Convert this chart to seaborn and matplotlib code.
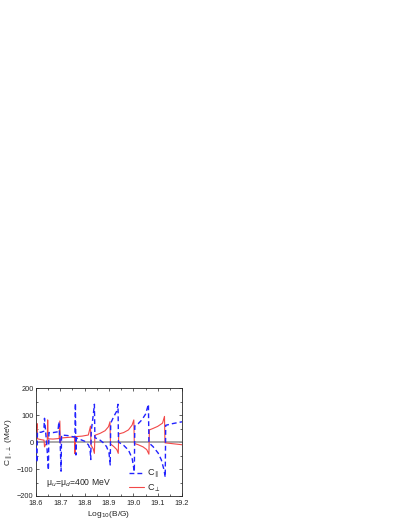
#!/usr/bin/env python3
"""
plot.py - C_par / C_perp oscillations vs log10(B/G), mu_u = mu_d = 400 MeV
"""

import pandas as pd
import matplotlib
matplotlib.use('Agg')
import matplotlib.pyplot as plt
from matplotlib.ticker import MultipleLocator
import seaborn as sns

# C_perp (red, solid)
red_x = [18.600, 18.603, 18.605, 18.606, 18.620, 18.633, 18.635, 18.640, 18.646,
         18.648, 18.650, 18.670, 18.695, 18.698, 18.700, 18.703, 18.730, 18.758,
         18.760, 18.762, 18.790, 18.815, 18.824, 18.826, 18.835, 18.840, 18.842,
         18.863, 18.884, 18.898, 18.904, 18.906, 18.920, 18.932, 18.938, 18.940,
         18.960, 18.980, 18.995, 19.002, 19.004, 19.020, 19.040, 19.055, 19.064,
         19.066, 19.080, 19.100, 19.120, 19.128, 19.130, 19.160, 19.200]
red_y = [40, 55, 68, 12, 9, 7, -18, -8, -5,
         82, 12, 11, 13, 78, -4, 15, 17, 19,
         -43, 20, 22, 26, 59, -11, -25, -42, 25,
         32, 42, 57, 75, -7, -17, -28, -42, 30,
         35, 45, 63, 82, -5, -10, -18, -28, -45,
         45, 50, 58, 70, 95, -3, -6, -10]

# C_par (blue, dashed)
blue_x = [18.600, 18.604, 18.606, 18.620, 18.632, 18.635, 18.645, 18.651, 18.653,
          18.670, 18.690, 18.694, 18.700, 18.703, 18.705, 18.730, 18.760, 18.762,
          18.764, 18.766, 18.780, 18.800, 18.815, 18.822, 18.825, 18.827, 18.834,
          18.840, 18.842, 18.850, 18.863, 18.877, 18.890, 18.900, 18.905, 18.907,
          18.920, 18.932, 18.937, 18.939, 18.960, 18.980, 18.995, 19.004, 19.006,
          19.020, 19.035, 19.050, 19.062, 19.064, 19.081, 19.102, 19.115, 19.126,
          19.131, 19.133, 19.160, 19.200]
blue_y = [-20, -75, 38, 36, 40, 88, -20, -104, 35,
          35, 38, 75, -20, -108, 26, 24, 18, 144,
          -48, 15, 10, 3, -10, -25, -65, 40, 90,
          140, 16, 13, 7, -3, -17, -40, -85, 70,
          95, 115, 140, 0, -12, -30, -60, -110, 60,
          68, 82, 103, 140, -3, -17, -41, -66, -103,
          -130, 62, 68, 75]

x_ticks = [18.6, 18.7, 18.8, 18.9, 19.0, 19.1, 19.2]
y_ticks = [-200, -100, 0, 100, 200]

RED = '#f24848'
BLUE = '#2222ff'


def setup_style():
    sns.set_style("ticks")
    plt.rcParams.update({
        'font.size': 5.3,
        'axes.linewidth': 0.6,
        'xtick.direction': 'in',
        'ytick.direction': 'in',
        'xtick.top': True,
        'ytick.right': True,
        'xtick.major.size': 2.2,
        'ytick.major.size': 2.2,
        'xtick.minor.size': 1.2,
        'ytick.minor.size': 1.2,
        'xtick.major.width': 0.5,
        'ytick.major.width': 0.5,
        'xtick.minor.width': 0.5,
        'ytick.minor.width': 0.5,
        'xtick.major.pad': 2.6,
        'ytick.major.pad': 1.8,
        'figure.facecolor': 'white',
    })
    plt.rcParams['font.family'] = ['Liberation Sans', 'DejaVu Sans']


def main():
    setup_style()

    red = pd.DataFrame({'x': red_x, 'y': red_y})
    blue = pd.DataFrame({'x': blue_x, 'y': blue_y})

    fig = plt.figure(figsize=(4.09, 5.29), dpi=100)
    ax = fig.add_axes([0.088, 0.0624, 0.357, 0.204])

    ax.axhline(0, color='#9a9a9a', lw=1.2, zorder=1)

    sns.lineplot(data=blue, x='x', y='y', sort=False, estimator=None, ax=ax,
                 color=BLUE, lw=1.0, label=r'C$_{\parallel}$', zorder=3)
    sns.lineplot(data=red, x='x', y='y', sort=False, estimator=None, ax=ax,
                 color=RED, lw=0.8, label=r'C$_{\perp}$', zorder=2)
    # dashed blue curve (lines[0] is the zero line)
    ax.lines[1].set_linestyle((0, (3.5, 2.2)))

    ax.set_xlim(18.6, 19.2)
    ax.set_ylim(-200, 200)
    ax.set_xticks(x_ticks)
    ax.set_yticks(y_ticks)
    ax.xaxis.set_minor_locator(MultipleLocator(0.05))
    ax.yaxis.set_minor_locator(MultipleLocator(50))
    ax.set_xticklabels([f'{t:.1f}' for t in x_ticks])
    ax.tick_params(labelsize=5.3)

    ax.set_xlabel(r'Log$_{10}$(B/G)', fontsize=6, labelpad=1.5)
    ax.set_ylabel(r'C$_{\parallel,\perp}$ (MeV)', fontsize=6, labelpad=1)

    ax.text(0.07, 0.12, r'μ$_u$=μ$_d$=400 MeV', transform=ax.transAxes,
            fontsize=6.2, va='center', ha='left')

    ax.legend(loc='center left', bbox_to_anchor=(0.64, 0.14), frameon=False,
              fontsize=6.6, handlelength=1.6, handletextpad=0.3,
              labelspacing=0.2, borderaxespad=0.0, borderpad=0.0)

    fig.savefig('out.png', dpi=100, facecolor='white')
    plt.close(fig)


if __name__ == "__main__":
    main()
